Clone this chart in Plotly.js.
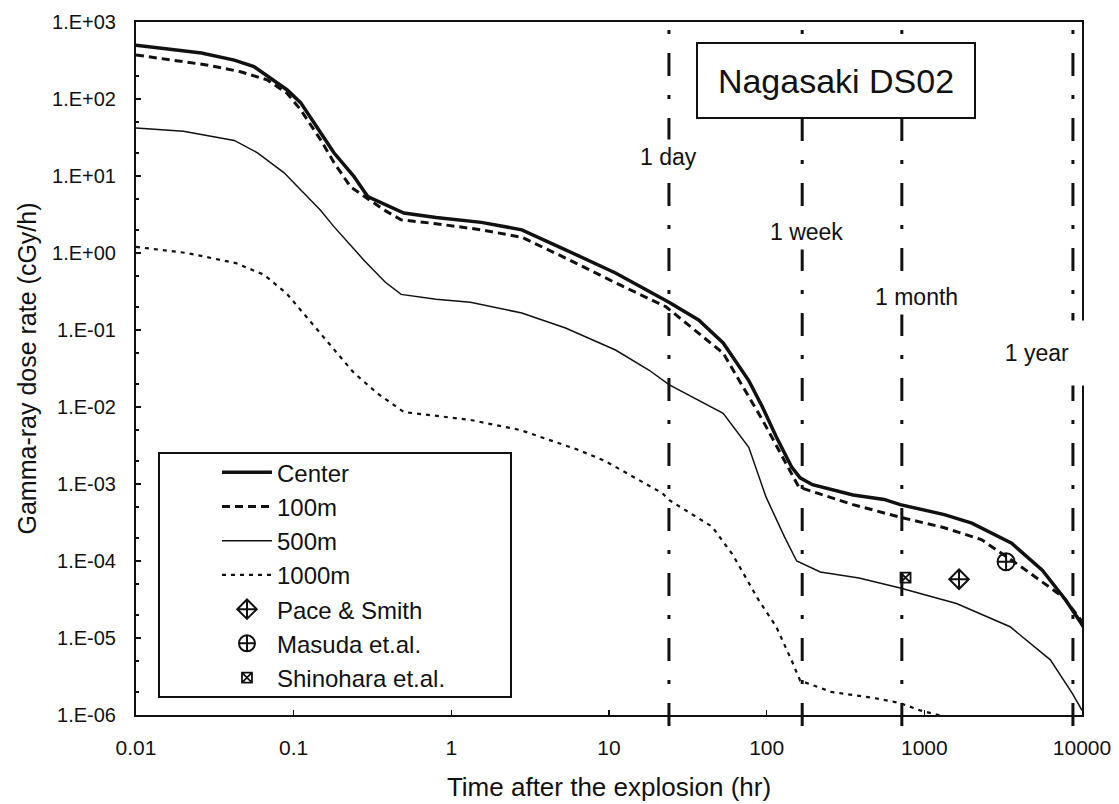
<!DOCTYPE html>
<html>
<head>
<meta charset="utf-8">
<script src="https://cdn.plot.ly/plotly-3.0.1.min.js"></script>
<style>
  html, body { margin: 0; padding: 0; background: #ffffff; }
  #chart { width: 1119px; height: 804px; }
</style>
</head>
<body>
<div id="chart"></div>
<script>
// ---------- data ----------
const tCenter = [0.01, 0.026, 0.042, 0.056, 0.091, 0.111, 0.149, 0.18, 0.24, 0.295, 0.5, 0.8, 1.55, 2.8, 5.3, 11, 24, 37, 53, 77, 94, 115, 144, 163, 195, 353, 556, 703, 1340, 2000, 3580, 5600, 7900, 10000, 12500];
const vCenter = [500, 396, 320, 263, 131, 89, 36, 20, 10, 5.4, 3.3, 2.9, 2.5, 2.0, 1.1, 0.55, 0.23, 0.135, 0.068, 0.022, 0.01, 0.0041, 0.00166, 0.0012, 0.00098, 0.00072, 0.00063, 0.00054, 0.0004, 0.00031, 0.00017, 0.000076, 0.000031, 0.000015, 0.0000065];

const t100 = [0.01, 0.028, 0.046, 0.068, 0.091, 0.111, 0.149, 0.18, 0.23, 0.376, 0.48, 0.8, 1.55, 2.8, 5.3, 11, 23, 53, 94, 160, 353, 703, 1340, 2300, 4150, 7600, 10600, 12500];
const v100 = [373, 277, 226, 177, 118, 72, 29, 15, 7.2, 3.6, 2.7, 2.4, 2.0, 1.6, 0.86, 0.41, 0.2, 0.05, 0.0068, 0.00091, 0.00054, 0.00037, 0.00027, 0.00019, 0.000083, 0.000034, 0.000014, 0.0000065];

const t500 = [0.01, 0.02, 0.042, 0.059, 0.087, 0.111, 0.148, 0.18, 0.28, 0.38, 0.48, 0.8, 1.32, 2.8, 5.3, 11, 18, 24, 53, 77, 99, 130, 155, 219, 385, 693, 1040, 1600, 3500, 6300, 8700, 10000];
const v500 = [42, 38, 29, 20, 11, 6.6, 3.6, 2.2, 0.8, 0.42, 0.29, 0.25, 0.23, 0.166, 0.106, 0.055, 0.03, 0.0195, 0.0083, 0.003, 0.00068, 0.000204, 0.0001, 0.000072, 0.00006, 0.000045, 0.000036, 0.000028, 0.000014, 0.0000052, 0.0000019, 0.00000115];

const t1000 = [0.01, 0.021, 0.043, 0.065, 0.09, 0.147, 0.24, 0.34, 0.5, 1.32, 2.76, 6.3, 9.4, 21.8, 24, 45, 61, 89, 115, 144, 163, 256, 480, 693, 940, 1600];
const v1000 = [1.2, 1.0, 0.74, 0.52, 0.30, 0.091, 0.028, 0.015, 0.0086, 0.0068, 0.005, 0.0028, 0.002, 0.00076, 0.00062, 0.00028, 0.00012, 0.000031, 0.000014, 0.0000051, 0.0000028, 0.000002, 0.00000166, 0.00000144, 0.00000115, 0.00000087];

const tPace = [1660];     const vPace = [0.000058];
const tMasuda = [3300];   const vMasuda = [0.000098];
const tShino = [760];     const vShino = [0.000061];

const seriesNames = ['Center', '100m', '500m', '1000m', 'Pace & Smith', 'Masuda et.al.', 'Shinohara et.al.'];

const refTimes  = [24, 168, 720, 8760];
const refLabels = ['1 day', '1 week', '1 month', '1 year'];
const refLabelY = [1.247, 0.273, -0.571, -1.30];   // log10 of dose rate where each label sits

const xTickVals = [0.01, 0.1, 1, 10, 100, 1000, 10000];
const xTickText = ['0.01', '0.1', '1', '10', '100', '1000', '10000'];
const yTickVals = [1e-6, 1e-5, 1e-4, 1e-3, 1e-2, 1e-1, 1, 10, 100, 1000];
const yTickText = ['1.E-06', '1.E-05', '1.E-04', '1.E-03', '1.E-02', '1.E-01', '1.E+00', '1.E+01', '1.E+02', '1.E+03'];

const chartTitle = 'Nagasaki DS02';
const xTitle = 'Time after the explosion (hr)';
const yTitle = 'Gamma-ray dose rate (cGy/h)';

// ---------- chart ----------
const FONT = '"Liberation Sans", Arial, sans-serif';
const INK = '#111111';

const traces = [
  { x: tCenter, y: vCenter, name: seriesNames[0], mode: 'lines', line: { color: INK, width: 3.5 } },
  { x: t100, y: v100, name: seriesNames[1], mode: 'lines', line: { color: INK, width: 3, dash: '8px,5px' } },
  { x: t500, y: v500, name: seriesNames[2], mode: 'lines', line: { color: INK, width: 1.5 } },
  { x: t1000, y: v1000, name: seriesNames[3], mode: 'lines', line: { color: INK, width: 2.2, dash: '4px,5px' } },
  { x: tPace, y: vPace, name: seriesNames[4], mode: 'markers', marker: { symbol: 'diamond-cross-open', size: 15, color: INK, line: { width: 2, color: INK } } },
  { x: tMasuda, y: vMasuda, name: seriesNames[5], mode: 'markers', marker: { symbol: 'circle-cross-open', size: 17, color: INK, line: { width: 2, color: INK } } },
  { x: tShino, y: vShino, name: seriesNames[6], mode: 'markers', marker: { symbol: 'square-x-open', size: 10, color: INK, line: { width: 1.8, color: INK } } }
];

const shapes = refTimes.map(t => ({
  type: 'line', xref: 'x', yref: 'paper', x0: t, x1: t, y0: -0.016, y1: 1,
  line: { color: INK, width: 3, dash: '23px,19px,4px,19px' }, layer: 'above'
}));
// legend frame
shapes.push({
  type: 'rect', xref: 'paper', yref: 'paper', x0: 0.0243, x1: 0.3964, y0: 0.026, y1: 0.378,
  line: { color: INK, width: 2 }, fillcolor: 'rgba(0,0,0,0)', layer: 'above'
});

const labelXShift = [0, 4, 15, -36];
const annotations = refTimes.map((t, i) => ({
  x: Math.log10(t), y: refLabelY[i], xref: 'x', yref: 'y',
  xanchor: 'center', yanchor: 'middle',
  text: refLabels[i], showarrow: false, xshift: labelXShift[i],
  font: { family: FONT, size: 23, color: INK },
  bgcolor: '#ffffff', borderpad: 4,
  width: i === 3 ? 100 : null, height: i === 3 ? 56 : null
}));
annotations.push({
  x: 0.740, y: 0.916, xref: 'paper', yref: 'paper', xanchor: 'center', yanchor: 'middle',
  text: chartTitle, showarrow: false,
  font: { family: FONT, size: 34, color: INK },
  bgcolor: '#ffffff', bordercolor: INK, borderwidth: 2, width: 274, height: 71
});

const layout = {
  width: 1119, height: 804,
  margin: { l: 136, r: 37, t: 22, b: 89 },
  paper_bgcolor: '#ffffff', plot_bgcolor: '#ffffff',
  font: { family: FONT, color: INK },
  showlegend: true,
  legend: {
    x: 0.0856, y: 0.382, xanchor: 'left', yanchor: 'top',
    bgcolor: 'rgba(0,0,0,0)', borderwidth: 0,
    font: { family: FONT, size: 24, color: INK },
    traceorder: 'normal', itemwidth: 50
  },
  xaxis: {
    type: 'log', range: [-2, 4],
    tickvals: xTickVals, ticktext: xTickText,
    tickfont: { family: FONT, size: 21, color: INK },
    ticks: 'inside', ticklen: 5, tickwidth: 1.5, tickcolor: INK,
    showline: true, linecolor: INK, linewidth: 2, mirror: true,
    showgrid: false, zeroline: false, ticklabelstandoff: 13,
    title: { text: xTitle, font: { family: FONT, size: 26, color: INK }, standoff: 20 }
  },
  yaxis: {
    type: 'log', range: [-6, 3],
    tickvals: yTickVals, ticktext: yTickText,
    tickfont: { family: FONT, size: 20, color: INK },
    ticks: 'inside', ticklen: 5, tickwidth: 1.5, tickcolor: INK,
    minor: { ticks: 'inside', ticklen: 3, tickcolor: INK, showgrid: false },
    showline: true, linecolor: INK, linewidth: 2, mirror: true,
    showgrid: false, zeroline: false, ticklabelstandoff: 14,
    title: { text: yTitle, font: { family: FONT, size: 25, color: INK }, standoff: 8 }
  },
  shapes: shapes,
  annotations: annotations
};

Plotly.newPlot('chart', traces, layout, { staticPlot: true, displayModeBar: false });
</script>
</body>
</html>
